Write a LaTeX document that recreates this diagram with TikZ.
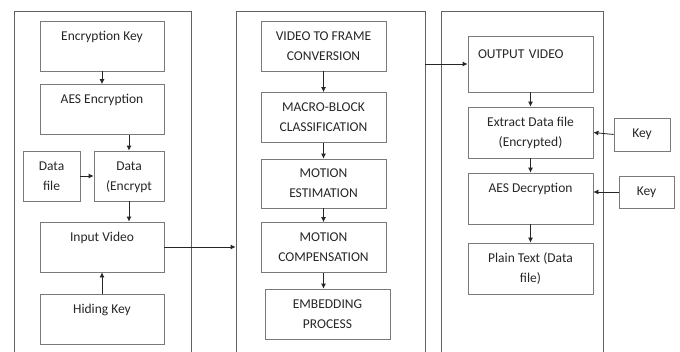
\documentclass[tikz,border=0pt]{standalone}
\usepackage{fontspec}
\setmainfont{Carlito}
\usetikzlibrary{arrows.meta}
\definecolor{edge}{HTML}{7A7A7A}
\tikzset{
  box/.style={draw=edge, line width=0.8pt, minimum width=124pt, minimum height=50pt,
    inner sep=0pt, align=center, text=black!85,
    font=\fontsize{13.5}{20}\selectfont},
  panel/.style={draw=edge!80!black, line width=0.8pt, minimum height=352pt, anchor=north},
  flow/.style={-{Latex[length=5pt,width=5pt]}, line width=0.8pt, black!85}
}
\begin{document}
\begin{tikzpicture}[x=1pt,y=-1pt]
            \useasboundingbox (0,0) rectangle (680,351);
            % panels
            \node[panel, minimum width=177pt] (lp) at (102.5,11) {};
            \node[panel, minimum width=189pt] (mp) at (330.5,11) {};
            \node[panel, minimum width=162pt] (rp) at (522,11) {};
            \fill[white] (0,352) rectangle (680,370);
            % hiding side
            \node[box] (ek) at (102,46) {\strut Encryption Key\\\strut};
            \node[box] (aes) at (102,109.5) {\strut AES Encryption\\\strut};
            \node[box, minimum width=57pt] (df) at (51.5,176) {\strut Data\\\strut file};
            \node[box, minimum width=70pt] (de) at (129,176) {\strut Data\\\strut(Encrypt};
            \node[box] (iv) at (102,247) {\strut Input Video\\\strut};
            \node[box] (hk) at (102,319.5) {\strut Hiding Key\\\strut};
            \draw[flow] (ek) -- (aes);
            \draw[flow] (aes.south -| de.north) -- (de.north);
            \draw[flow] (df.east) -- (de.west);
            \draw[flow] (de.south) -- (de.south |- iv.north);
            \draw[flow] (hk) -- (iv);
            \draw[flow] (iv.east) -- (iv.east -| mp.west);
            % embedding side
            \node[box, minimum width=125pt] (vf) at (323.5,46) {\strut VIDEO TO FRAME\\\strut CONVERSION};
            \node[box, minimum width=125pt] (mb) at (323.5,117.5) {\strut MACRO-BLOCK\\\strut CLASSIFICATION};
            \node[box, minimum width=125pt, minimum height=49pt] (me) at (323.5,183.5) {\strut MOTION\\\strut ESTIMATION};
            \node[box, minimum width=125pt] (mc) at (323.5,247.5) {\strut MOTION\\\strut COMPENSATION};
            \node[box, minimum width=125pt] (emb) at (327.5,314) {\strut EMBEDDING\\\strut PROCESS};
            \draw[flow] (vf) -- (mb);
            \draw[flow] (mb) -- (me);
            \draw[flow] (me) -- (mc);
            \draw[flow] (mc.south) -- (mc.south |- emb.north);
            % extraction side
            \node[box, minimum width=125pt, minimum height=56pt, align=left, text width=105pt, inner xsep=10pt] (ov) at (530.5,64) {\strut OUTPUT VIDEO\\\strut};
            \node[box, minimum width=125pt, minimum height=51pt] (ex) at (530.5,132.5) {\strut Extract Data file\\\strut(Encrypted)};
            \node[box, minimum width=125pt, minimum height=51pt] (ad) at (530.5,198.5) {\strut AES Decryption\\\strut};
            \node[box, minimum width=125pt, minimum height=51pt] (pt) at (530.5,268.5) {\strut Plain Text (Data\\\strut file)};
            \node[box, minimum width=56pt, minimum height=33pt] (k1) at (642,134.5) {Key};
            \node[box, minimum width=55pt, minimum height=32pt] (k2) at (646.5,192) {Key};
            \draw[flow] (ov.west -| mp.east) -- (ov.west);
            \draw[flow] (ov) -- (ex);
            \draw[flow] (ex) -- (ad);
            \draw[flow] (ad) -- (pt);
            \draw[flow] (k1.west) -- (ex.east);
            \draw[flow] (k2.west) -- (k2.west -| ad.east);
        \end{tikzpicture}
\end{document}
